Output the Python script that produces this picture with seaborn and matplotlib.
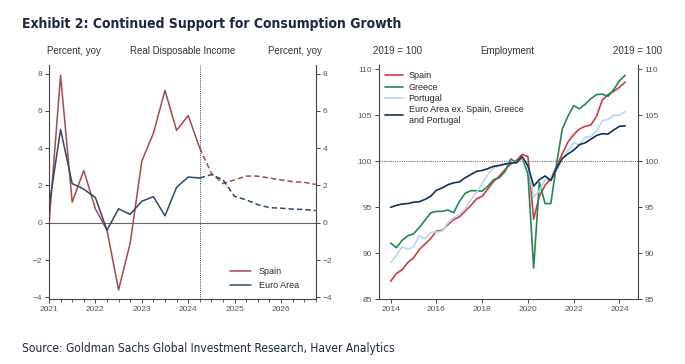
import pandas as pd
import numpy as np
import matplotlib.pyplot as plt
import seaborn as sns

# left panel: real disposable income, % yoy, quarterly 2021Q1-2026Q4
rdi_quarters = pd.period_range("2021Q1", "2026Q4", freq="Q")
rdi_spain = [-0.1, 7.9, 1.1, 2.8, 0.75, -0.4, -3.6, -1.1, 3.3, 4.8, 7.1, 4.95,
             5.75, 4.0, 2.65, 2.1, 2.3, 2.5, 2.5, 2.4, 2.3, 2.2, 2.17, 2.05]
rdi_euro = [0.85, 5.0, 2.1, 1.8, 1.35, -0.4, 0.75, 0.45, 1.15, 1.4, 0.37, 1.9,
            2.45, 2.4, 2.58, 2.3, 1.41, 1.23, 0.97, 0.81, 0.78, 0.73, 0.71, 0.65]
forecast_start = "2024Q2"

# right panel: employment, 2019 = 100, quarterly 2014Q1-2024Q2
emp_quarters = pd.period_range("2014Q1", "2024Q2", freq="Q")
emp_spain = [86.95, 87.8, 88.2, 89.0, 89.5, 90.4, 91.0, 91.6, 92.4, 92.5, 93.1, 93.65,
             93.95, 94.55, 95.2, 95.9, 96.2, 97.0, 97.8, 98.4, 99.1, 99.7, 100.1, 100.75,
             100.5, 93.7, 96.2, 97.4, 98.1, 99.4, 100.8, 102.1, 102.9, 103.5, 103.8, 103.95,
             104.9, 106.65, 107.25, 107.6, 108.05, 108.6]
emp_greece = [91.1, 90.6, 91.4, 91.9, 92.1, 92.8, 93.6, 94.4, 94.55, 94.55, 94.7, 94.4,
              95.6, 96.5, 96.8, 96.8, 96.75, 97.3, 98.0, 98.2, 98.9, 100.25, 99.85, 100.4,
              98.6, 88.4, 97.7, 95.4, 95.4, 99.7, 103.5, 104.9, 106.05, 105.7, 106.2, 106.8,
              107.25, 107.3, 107.05, 107.8, 108.75, 109.35]
emp_portugal = [89.0, 89.75, 90.7, 90.4, 90.7, 91.9, 91.6, 92.25, 92.3, 92.4, 93.3, 93.85,
                94.2, 94.8, 95.8, 96.6, 97.6, 98.6, 99.3, 99.5, 99.7, 99.8, 99.9, 100.3,
                99.5, 96.1, 96.8, 98.0, 98.1, 99.0, 100.3, 101.2, 102.0, 101.8, 102.6, 102.7,
                103.3, 104.4, 104.55, 105.0, 105.0, 105.4]
emp_euro = [95.0, 95.2, 95.35, 95.4, 95.55, 95.6, 95.85, 96.2, 96.85, 97.1, 97.45, 97.65,
            97.75, 98.2, 98.55, 98.9, 99.0, 99.2, 99.45, 99.55, 99.7, 99.8, 99.85, 100.5,
            99.5, 97.3, 98.0, 98.4, 97.9, 99.2, 100.3, 100.8, 101.2, 101.8, 102.0, 102.4,
            102.8, 103.0, 102.95, 103.4, 103.8, 103.85]
emp_names = ["Spain", "Greece", "Portugal", "Euro Area ex. Spain, Greece\nand Portugal"]


def dec_year(periods):
    return periods.year + (periods.quarter - 1) / 4


sns.set_style("ticks")
plt.rcParams["font.family"] = ["Liberation Sans", "DejaVu Sans"]
grey = "#555555"
plt.rcParams.update({"axes.edgecolor": "#444444", "xtick.color": "#444444",
                     "ytick.color": "#444444", "xtick.labelcolor": grey,
                     "ytick.labelcolor": grey, "axes.linewidth": 0.8})

fig = plt.figure(figsize=(6.85, 3.64), dpi=100)
ax1 = fig.add_axes([0.0715, 0.178, 0.3895, 0.643])
ax2 = fig.add_axes([0.553, 0.178, 0.378, 0.643])

# ---- left panel
rdi = pd.DataFrame({"x": dec_year(rdi_quarters), "Spain": rdi_spain, "Euro Area": rdi_euro})
fp = pd.Period(forecast_start, freq="Q")
cut = fp.year + (fp.quarter - 1) / 4
left_cols = {"Spain": "#a8474d", "Euro Area": "#2b4a6b"}
for name, col in left_cols.items():
    hist = rdi[rdi.x <= cut]
    fc = rdi[rdi.x >= cut]
    sns.lineplot(x=hist.x, y=hist[name], ax=ax1, color=col, lw=1.1, label=name)
    sns.lineplot(x=fc.x, y=fc[name], ax=ax1, color=col, lw=1.1, ls=(0, (3.5, 2)))
ax1.axhline(0, color="#666666", lw=0.8, zorder=0)
ax1.axvline(cut, color="#444444", lw=0.7, ls=(0, (1, 1.2)))
ax1.set_xlim(2021, 2026.75)
ax1.set_ylim(-4.1, 8.45)
ax1.set_yticks(range(-4, 9, 2))
ax1.set_yticklabels([str(v).replace("-", "\u2212") for v in range(-4, 9, 2)])
ax1.set_xticks(range(2021, 2027))
ax1.set_xticks(np.arange(2021, 2026.8, 0.25), minor=True)
ax1.legend(loc="lower right", frameon=False, fontsize=6.5, handlelength=2.4,
           borderaxespad=0.6, labelspacing=0.6, bbox_to_anchor=(0.97, 0.0))

# ---- right panel
emp = pd.DataFrame({"x": dec_year(emp_quarters), emp_names[0]: emp_spain,
                    emp_names[1]: emp_greece, emp_names[2]: emp_portugal,
                    emp_names[3]: emp_euro})
emp_long = emp.melt(id_vars="x", var_name="series", value_name="v")
sns.lineplot(data=emp_long, x="x", y="v", hue="series", hue_order=emp_names,
             palette=["#d23a3f", "#1f8a4f", "#b5d8f2", "#13305c"], lw=1.2, ax=ax2)
ax2.axhline(100, color="#777777", lw=0.8, ls=(0, (1, 1)), zorder=0)
ax2.set_xlim(2013.48, 2024.8)
ax2.set_ylim(85, 110.45)
ax2.set_yticks(range(85, 111, 5))
ax2.set_xticks(range(2014, 2025, 2))
ax2.legend(loc="upper left", frameon=False, fontsize=6.5, handlelength=2.0,
           handletextpad=0.6, borderaxespad=0.3, labelspacing=0.25,
           bbox_to_anchor=(0.0, 1.0))

for ax in (ax1, ax2):
    ax.set_xlabel("")
    ax.set_ylabel("")
    ax.spines["top"].set_visible(False)
    ax.spines["right"].set_visible(True)
    ax.yaxis.set_ticks_position("both")
    ax.tick_params(axis="both", which="major", labelsize=6, length=3, width=0.7,
                   direction="out", labelright=True, pad=2)
    ax.tick_params(axis="x", which="minor", length=2, width=0.6)

# panel headers
hdr = dict(fontsize=7, color="#333333", va="center")
fig.text(0.108, 0.859, "Percent, yoy", ha="center", **hdr)
fig.text(0.267, 0.859, "Real Disposable Income", ha="center", **hdr)
fig.text(0.431, 0.859, "Percent, yoy", ha="center", **hdr)
fig.text(0.581, 0.859, "2019 = 100", ha="center", **hdr)
fig.text(0.741, 0.859, "Employment", ha="center", **hdr)
fig.text(0.93, 0.859, "2019 = 100", ha="center", **hdr)

fig.text(0.032, 0.935, "Exhibit 2: Continued Support for Consumption Growth",
         fontsize=10, fontweight="bold", fontstretch="condensed", color="#1c2841",
         va="center", family=["DejaVu Sans"])
fig.text(0.032, 0.042, "Source: Goldman Sachs Global Investment Research, Haver Analytics",
         fontsize=8.6, fontstretch="condensed", color="#1c2841", va="center",
         family=["DejaVu Sans"])

fig.savefig("out.png", dpi=100)
